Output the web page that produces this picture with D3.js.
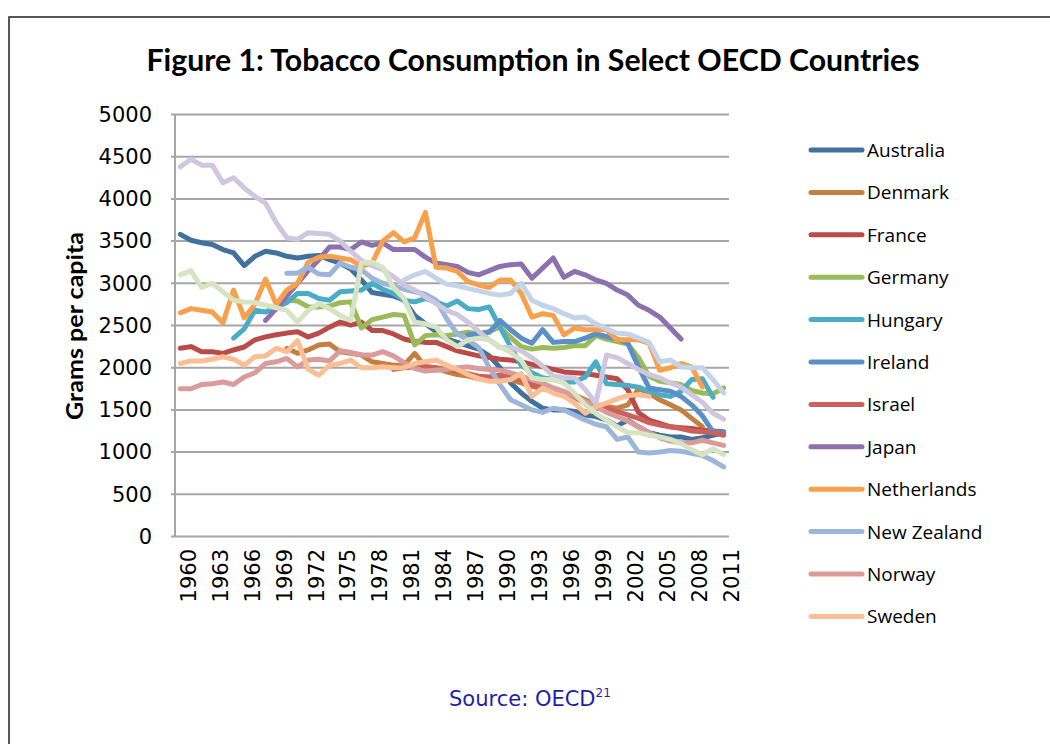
<!DOCTYPE html>
<html>
<head>
<meta charset="utf-8">
<script src="https://cdn.jsdelivr.net/npm/d3@7"></script>
<style>
  body { margin: 0; background: #fff; }
  svg { display: block; }
</style>
</head>
<body>
<div class="chart"></div>
<script>
// categories
var years = d3.range(1960, 2012);
var tickYears = years.filter(function(y) { return (y - 1960) % 3 === 0; });
var yTicks = [0, 500, 1000, 1500, 2000, 2500, 3000, 3500, 4000, 4500, 5000];

// put a run of values starting at a given year onto the 1960-2011 axis
function fromYear(start, vals) {
  return years.map(function(y) {
    var i = y - start;
    return (i >= 0 && i < vals.length) ? vals[i] : null;
  });
}

// grams per capita
var australia = fromYear(1960, [3580, 3510, 3480, 3460, 3400, 3360, 3210, 3320, 3380, 3360,
  3320, 3300, 3320, 3330, 3280, 3240, 3170, 3040, 2890, 2870,
  2850, 2800, 2620, 2520, 2430, 2340, 2300, 2260, 2220, 2140,
  2000, 1820, 1700, 1600, 1520, 1500, 1500, 1480, 1440, 1420,
  1380, 1310, 1380, 1300, 1230, 1200, 1180, 1180, 1150, 1170,
  1200, 1230]);
var denmark = fromYear(1970, [2230, 2170, 2210, 2270, 2280, 2190, 2170, 2150, 2070, 2050,
  2030, 2030, 2170, 2010, 2000, 1950, 1920, 1900, 1870, 1860,
  1880, 1860, 1820, 1780, 1750, 1730, 1700, 1680, 1620, 1560,
  1540, 1520, 1560, 1750, 1700, 1620, 1560, 1500, 1400, 1300]);
var france = fromYear(1960, [2230, 2250, 2190, 2190, 2170, 2210, 2245, 2330, 2365, 2390,
  2410, 2425, 2365, 2410, 2480, 2540, 2505, 2540, 2440, 2440,
  2400, 2340, 2310, 2300, 2300, 2250, 2200, 2170, 2140, 2120,
  2100, 2090, 2070, 2040, 2010, 1980, 1950, 1940, 1930, 1910,
  1890, 1870, 1740, 1470, 1380, 1340, 1300, 1290, 1280, 1260,
  1250, 1240]);
var germany = fromYear(1969, [2690,
  2800, 2790, 2720, 2720, 2730, 2770, 2780, 2470, 2570, 2600,
  2630, 2620, 2270, 2380, 2390, 2380, 2400, 2420, 2400, 2430,
  2480, 2360, 2250, 2220, 2240, 2230, 2240, 2260, 2260, 2380,
  2340, 2310, 2280, 2120, 1900, 1840, 1820, 1800, 1730, 1700,
  1690, 1760]);
var hungary = fromYear(1965, [2350, 2460, 2680, 2660, 2720,
  2770, 2880, 2880, 2820, 2800, 2900, 2910, 2920, 3000, 2930,
  2880, 2800, 2780, 2820, 2780, 2730, 2790, 2700, 2690, 2720,
  2480, 2250, 2030, 1940, 1880, 1860, 1830, 1830, 1890, 2070,
  1810, 1800, 1790, 1770, 1720, 1680, 1660, 1720, 1860, 1870,
  1650]);
var ireland = fromYear(1987, [2390, 2400, 2420,
  2560, 2450, 2350, 2290, 2450, 2300, 2310, 2310, 2350, 2400,
  2370, 2340, 2290, 2010, 1760, 1740, 1720, 1660, 1560, 1430,
  1240, 1230]);
var israel = fromYear(1980, [1980, 2000, 2010, 2010, 2000, 1980, 1960, 1930, 1900, 1890,
  1910, 1890, 1850, 1800, 1770, 1720, 1700, 1650, 1580, 1550,
  1520, 1480, 1440, 1400, 1350, 1320, 1300, 1280, 1250, 1240,
  1230, 1200]);
var japan = fromYear(1968, [2560, 2700,
  2850, 3000, 3150, 3280, 3430, 3430, 3400, 3490, 3450, 3480,
  3400, 3400, 3400, 3310, 3240, 3220, 3200, 3130, 3100, 3150,
  3200, 3220, 3230, 3060, 3180, 3300, 3070, 3140, 3100, 3040,
  3000, 2920, 2860, 2740, 2680, 2600, 2470, 2340]);
var netherlands = fromYear(1960, [2650, 2700, 2680, 2660, 2530, 2920, 2590, 2750, 3050, 2750,
  2920, 3000, 3250, 3310, 3320, 3300, 3280, 3200, 3240, 3500,
  3600, 3490, 3540, 3840, 3190, 3180, 3140, 3020, 2980, 2950,
  3040, 3040, 2880, 2600, 2640, 2620, 2390, 2470, 2450, 2450,
  2450, 2330, 2330, 2330, 2290, 1970, 2000, 2050, 2010, 1770]);
var newZealand = fromYear(1970, [3120, 3120, 3190, 3110, 3100, 3240, 3190, 3160, 3060, 3000,
  2970, 2930, 2900, 2870, 2800, 2580, 2400, 2330, 2240, 2000,
  1800, 1620, 1560, 1500, 1470, 1520, 1500, 1440, 1380, 1330,
  1300, 1150, 1180, 1000, 990, 1000, 1020, 1010, 985, 960,
  900, 825]);
var norway = fromYear(1960, [1750, 1750, 1800, 1810, 1830, 1800, 1890, 1940, 2050, 2070,
  2110, 2010, 2090, 2100, 2080, 2200, 2180, 2150, 2150, 2190,
  2140, 2060, 1990, 1960, 1970, 1980, 2000, 2010, 1990, 1980,
  1970, 1940, 1900, 1860, 1820, 1760, 1720, 1660, 1600, 1540,
  1470, 1420, 1370, 1300, 1230, 1170, 1130, 1110, 1110, 1140,
  1110, 1080]);
var sweden = fromYear(1960, [2050, 2080, 2080, 2100, 2130, 2100, 2030, 2130, 2140, 2230,
  2190, 2320, 1980, 1910, 2030, 2050, 2090, 2000, 2000, 2010,
  2000, 2000, 2050, 2070, 2090, 2030, 1980, 1920, 1870, 1840,
  1840, 1860, 1930, 1660, 1760, 1700, 1660, 1580, 1460, 1540,
  1580, 1630, 1670, 1680, 1660]);
// three more series are drawn but have no legend entry
var series13 = fromYear(1960, [4380, 4470, 4400, 4400, 4190, 4250, 4130, 4030, 3950, 3720,
  3540, 3520, 3600, 3590, 3580, 3500, 3380, 3270, 3210, 3160,
  3080, 2980, 2920, 2840, 2760, 2680, 2630, 2540, 2430, 2330,
  2240, 2240, 2200, 2120, 2020, 1900, 1880, 1880, 1740, 1580,
  2150, 2120, 2050, 1980, 1920, 1880, 1820, 1770, 1680, 1590,
  1460, 1390]);
var series14 = fromYear(1960, [3100, 3150, 2950, 3000, 2900, 2800, 2780, 2770, 2740, 2710,
  2680, 2540, 2680, 2760, 2700, 2620, 2560, 3240, 3250, 3190,
  2950, 2820, 2540, 2520, 2480, 2330, 2250, 2330, 2350, 2330,
  2250, 2180, 2090, 1880, 1860, 1860, 1820, 1700, 1560, 1460,
  1380, 1300, 1230, 1230, 1200, 1180, 1150, 1100, 1030, 970,
  1040, 970]);
var series15 = fromYear(1981, [3040, 3100, 3140, 3060, 2990, 2970, 2940, 2910, 2880,
  2860, 2880, 3000, 2800, 2740, 2700, 2640, 2590, 2600, 2520,
  2460, 2410, 2400, 2350, 2300, 2070, 2090, 2010, 2000, 2000,
  1860, 1700]);

var series = [
  {name: "Australia", color: "#41719f", values: australia},
  {name: "Denmark", color: "#c5803e", values: denmark},
  {name: "France", color: "#ba4b48", values: france},
  {name: "Germany", color: "#9bbb59", values: germany},
  {name: "Hungary", color: "#4bacc6", values: hungary},
  {name: "Ireland", color: "#5b8fc8", values: ireland},
  {name: "Israel", color: "#cb605c", values: israel},
  {name: "Japan", color: "#8c71b0", values: japan},
  {name: "Netherlands", color: "#f9a04d", values: netherlands},
  {name: "New Zealand", color: "#9db5d9", values: newZealand},
  {name: "Norway", color: "#da9c9a", values: norway},
  {name: "Sweden", color: "#fbbe95", values: sweden},
  {name: "", color: "#cfc7de", values: series13},
  {name: "", color: "#d7e4c4", values: series14},
  {name: "", color: "#c5d3e8", values: series15}
];

var svg = d3.select(".chart").append("svg")
  .attr("width", 1050).attr("height", 744);

// frame around the figure
svg.append("path")
  .attr("d", "M9,744 V17 H1050")
  .attr("fill", "none").attr("stroke", "#222").attr("stroke-width", 1.5);

// title
svg.append("text")
  .attr("x", 533).attr("y", 71)
  .attr("text-anchor", "middle")
  .attr("textLength", 773).attr("lengthAdjust", "spacingAndGlyphs")
  .style("font-family", "Lato, sans-serif").style("font-weight", "bold").style("font-size", "31px")
  .text("Figure 1: Tobacco Consumption in Select OECD Countries");

var plotLeft = 175, plotRight = 729;
var x = d3.scaleBand().domain(years).range([plotLeft, plotRight]);
var y = d3.scaleLinear().domain([0, 5000]).range([536.5, 114.5]);
function cx(yr) { return x(yr) + x.bandwidth() / 2; }

// gridlines
svg.append("g").selectAll("line")
  .data(yTicks)
  .enter().append("line")
  .attr("x1", plotLeft - 4).attr("x2", plotRight)
  .attr("y1", function(d) { return y(d); })
  .attr("y2", function(d) { return y(d); })
  .attr("stroke", "#a6a6a6").attr("stroke-width", 2);

// left axis line
svg.append("line")
  .attr("x1", plotLeft).attr("x2", plotLeft)
  .attr("y1", y(5000)).attr("y2", y(0))
  .attr("stroke", "#a6a6a6").attr("stroke-width", 2);

// y axis labels
var yAxis = d3.axisLeft(y).tickValues(yTicks).tickFormat(d3.format("d")).tickSize(0).tickPadding(23);
var yAxisGroup = svg.append("g").attr("transform", "translate(" + plotLeft + ",0)").call(yAxis);
yAxisGroup.select(".domain").remove();
yAxisGroup.selectAll("text")
  .style("font-family", "DejaVu Sans, sans-serif").style("font-size", "21px").attr("fill", "#000");

// x axis labels, rotated
svg.append("g").selectAll("text")
  .data(tickYears)
  .enter().append("text")
  .attr("transform", function(d) { return "translate(" + (cx(d) + 8) + ",549) rotate(-90)"; })
  .attr("text-anchor", "end")
  .attr("dy", "0.35em")
  .style("font-family", "DejaVu Sans, sans-serif").style("font-size", "21px")
  .text(function(d) { return d; });

// y axis title
svg.append("text")
  .attr("transform", "translate(83,326) rotate(-90)")
  .attr("text-anchor", "middle")
  .attr("textLength", 188).attr("lengthAdjust", "spacingAndGlyphs")
  .style("font-family", "Lato, sans-serif").style("font-weight", "bold").style("font-size", "23px")
  .text("Grams per capita");

// lines
var line = d3.line()
  .defined(function(d) { return d != null; })
  .x(function(d, i) { return cx(years[i]); })
  .y(function(d) { return y(d); });

svg.append("g").selectAll("path")
  .data(series)
  .enter().append("path")
  .attr("d", function(d) { return line(d.values); })
  .attr("fill", "none")
  .attr("stroke", function(d) { return d.color; })
  .attr("stroke-width", 5)
  .attr("stroke-linejoin", "round")
  .attr("stroke-linecap", "round");

// legend
var legend = svg.append("g").selectAll("g")
  .data(series.filter(function(d) { return d.name; }))
  .enter().append("g")
  .attr("transform", function(d, i) { return "translate(0," + (150 + i * 42.4) + ")"; });

legend.append("line")
  .attr("x1", 811).attr("x2", 862)
  .attr("stroke", function(d) { return d.color; })
  .attr("stroke-width", 5).attr("stroke-linecap", "round");

legend.append("text")
  .attr("x", 867).attr("y", 7)
  .style("font-family", "Open Sans, sans-serif").style("font-size", "19px")
  .text(function(d) { return d.name; });

// source note
var source = svg.append("text")
  .attr("x", 449).attr("y", 706)
  .style("font-family", "DejaVu Sans, sans-serif").style("font-size", "21px")
  .attr("fill", "#1f1fa8");
source.append("tspan").text("Source: OECD");
source.append("tspan").attr("dy", -9).style("font-size", "12px").text("21");
</script>
</body>
</html>
